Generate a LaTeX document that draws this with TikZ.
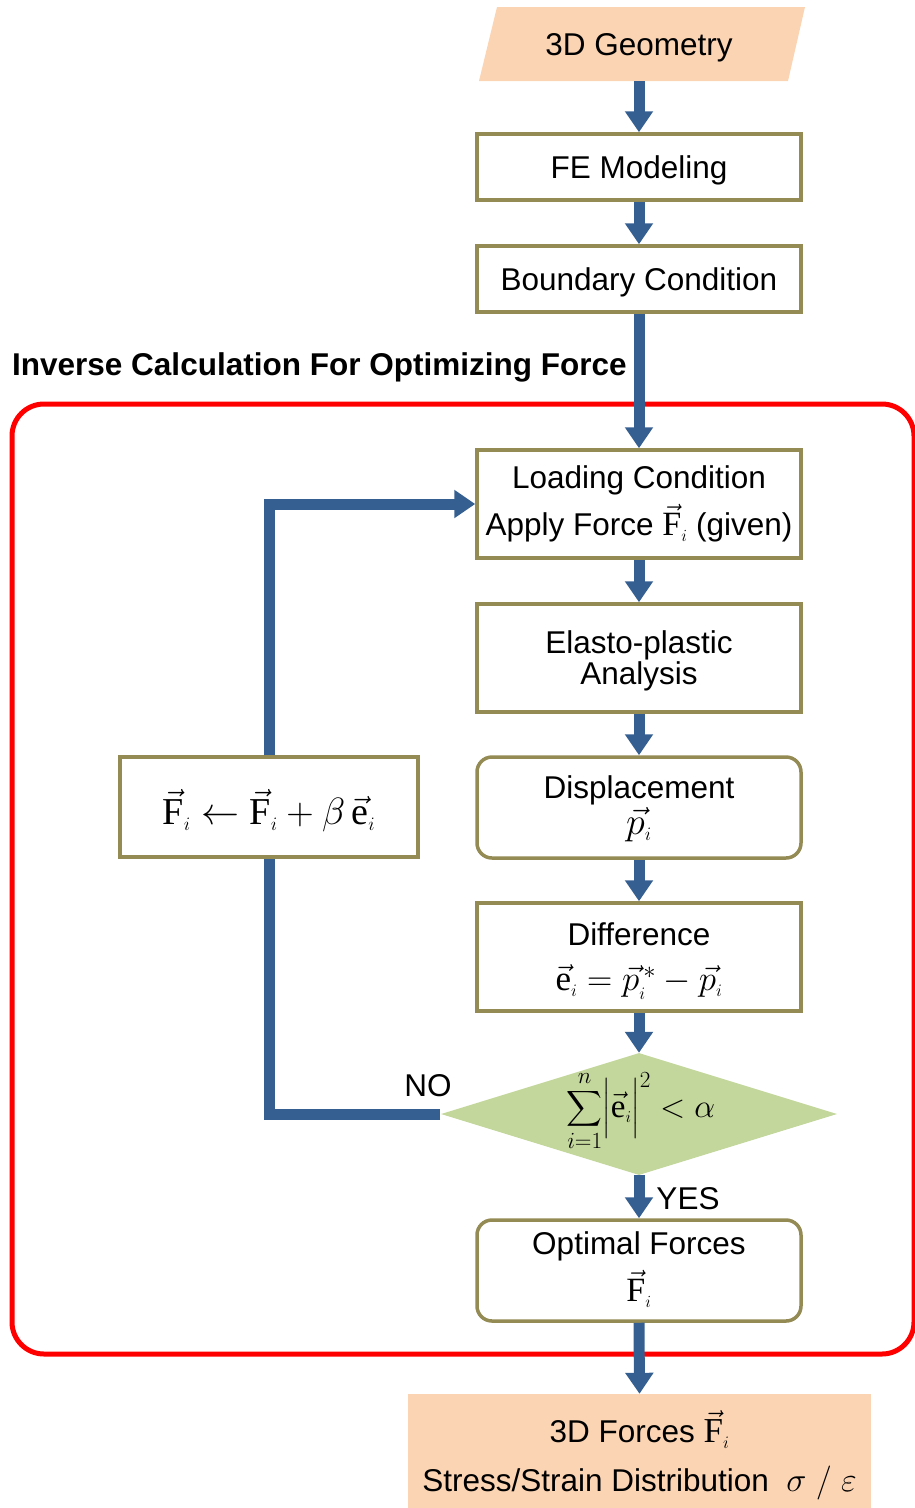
\RequirePackage{fix-cm}
\documentclass[tikz,border=0pt]{standalone}
\usepackage{exscale}
\usepackage{fontspec}
\setmainfont{Liberation Sans}
\setmathrm{Liberation Serif}
\usetikzlibrary{arrows.meta,shapes.geometric}
\definecolor{peach}{HTML}{FBD4B4}
\definecolor{olivebd}{HTML}{948A54}
\definecolor{leaf}{HTML}{C3D69B}
\definecolor{flowblue}{HTML}{365F91}
\definecolor{frame}{HTML}{FF0000}
\newcommand\mathat[2]{{\fontsize{#1}{32}\selectfont$#2$}}
\newcommand\subi{_{\scriptscriptstyle i}}
\newcommand\tightlines{\lineskiplimit -100pt\relax}
\tikzset{
 basefont/.style={font=\fontsize{31.5}{32}\selectfont\tightlines},
 stepbox/.style={basefont, draw=olivebd, line width=3.5pt, fill=white, minimum width=324pt, align=center, inner sep=0pt, text depth=0pt},
 roundbox/.style={stepbox, rounded corners=15pt},
 flow/.style={draw=flowblue, line width=11pt, -{Triangle[width=27pt,length=21pt]}},
 loopline/.style={draw=flowblue, line width=11pt, line join=miter},
 lbl/.style={basefont, inner sep=0pt, align=center},
}
\begin{document}
\begin{tikzpicture}[x=1pt,y=-1pt]
\useasboundingbox (0,0) rectangle (915,1508);
% red frame
\draw[frame, line width=5pt, rounded corners=32pt] (12,404) rectangle (914,1354);
\node[lbl, font=\bfseries\fontsize{31.5}{32}\selectfont, anchor=base west] (title) at (12,375) {Inverse Calculation For Optimizing Force};
% top parallelogram
\fill[peach] (497,7) -- (805,7) -- (788,81) -- (479,81) -- cycle;
\node[lbl, minimum height=74pt, minimum width=290pt, text depth=0pt] (geo) at (639,44) {3D Geometry};
% boxes
\node[stepbox, minimum height=66pt] (fe) at (639,167) {FE Modeling};
\node[stepbox, minimum height=66pt] (bc) at (639,279) {Boundary Condition};
\node[stepbox, minimum height=108pt, text depth=6pt] (load) at (639,504) {Loading Condition\\[15pt] Apply Force \mathat{34}{\vec{\mathrm{F}}\subi} (given)};
\node[stepbox, minimum height=108pt, text depth=-9pt] (ela) at (639,658) {Elasto-plastic\\[-1pt]Analysis};
\node[roundbox, minimum height=101pt, text depth=4pt] (disp) at (639,807.5) {Displacement\\[4pt] \mathat{38}{\vec{p}\subi}};
\node[stepbox, minimum height=108pt] (diff) at (639,957) {Difference\\[13pt] \mathat{35}{\vec{\mathrm{e}}\subi = \vec{p}\subi^{\,*} - \vec{p}\subi}};
\node[stepbox, minimum width=298pt, minimum height=100pt] (upd) at (269,807) {\mathat{38}{\vec{\mathrm{F}}\subi \leftarrow \vec{\mathrm{F}}\subi + \beta\,\vec{\mathrm{e}}\subi}};
% feedback loop (drawn below diamond)
\coordinate (c1) at (269,1114);
\coordinate (c2) at (upd.north |- load.west);
\draw[loopline] (440,1114) -- (c1) -- (upd.south);
\draw[loopline, -{Triangle[width=27pt,length=21pt]}] (upd.north) -- (c2) -- (load.west);
% decision
\node[diamond, fill=leaf, minimum width=396pt, minimum height=122pt, inner sep=0pt] (dec) at (639,1114) {};
\node[lbl] (decf) at (641,1111) {\mathat{33}{\displaystyle\sum_{i=1}^{n}\Bigl|\vec{\mathrm{e}}\subi\Bigr|^{2} < \alpha}};
\node[roundbox, minimum height=101pt, text depth=7pt] (opt) at (639,1270.5) {Optimal Forces\\[15pt] \mathat{34}{\vec{\mathrm{F}}\subi}};
\node[lbl, fill=peach, minimum width=463pt, minimum height=114pt, text depth=0pt] (res) at (639.5,1451) {3D Forces \mathat{35}{\vec{\mathrm{F}}\subi}\\[17pt] Stress/Strain Distribution\ \ \mathat{34}{\sigma\;/\;\varepsilon}};
% labels
\node[lbl] (no) at (428,1086) {NO};
\node[lbl] (yes) at (688,1199) {YES};
% arrows
\draw[flow] (geo.south) -- (fe.north);
\draw[flow] (fe.south) -- (bc.north);
\draw[flow] (bc.south) -- (load.north);
\draw[flow] (load.south) -- (ela.north);
\draw[flow] (ela.south) -- (disp.north);
\draw[flow] (disp.south) -- (diff.north);
\draw[flow] (diff.south) -- (dec.north);
\draw[flow] (dec.south) -- (opt.north);
\draw[flow] (opt.south) -- (res.north);
\end{tikzpicture}
\end{document}
